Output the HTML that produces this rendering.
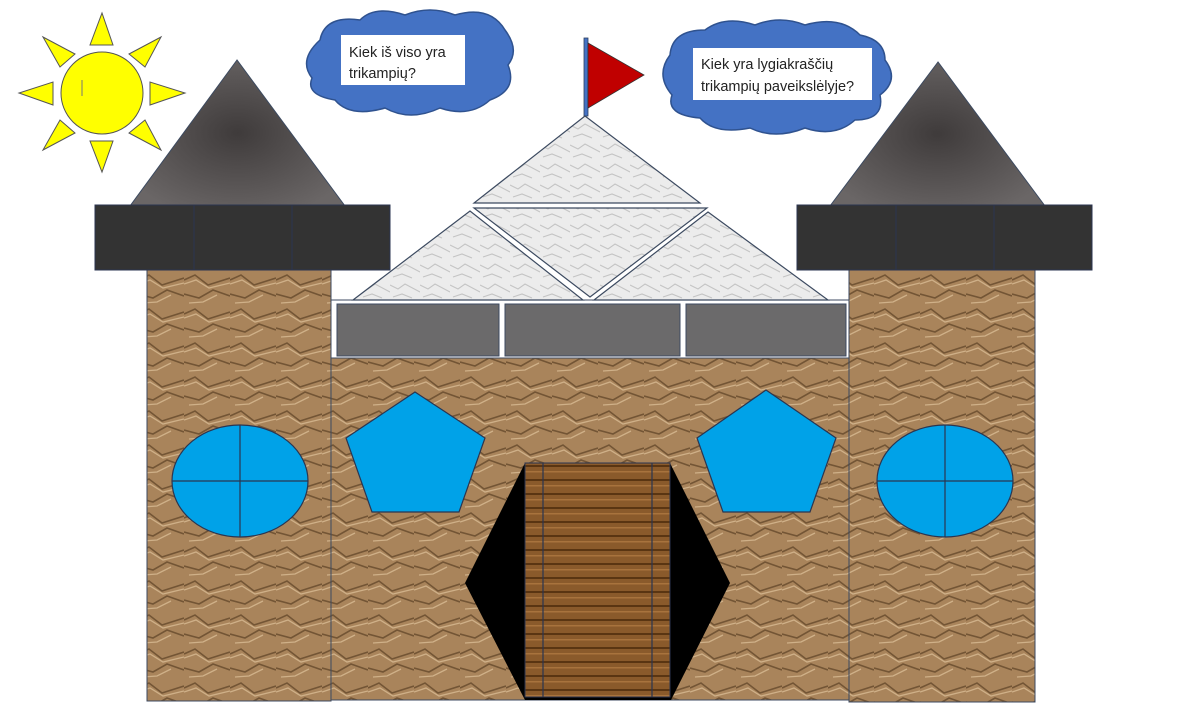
<!DOCTYPE html><html><head><meta charset="utf-8"><style>body{margin:0;background:#fff}svg{display:block}</style></head><body>
<svg width="1200" height="717" viewBox="0 0 1200 717" xmlns="http://www.w3.org/2000/svg">
<defs>
<pattern id="paper" width="46" height="34" patternUnits="userSpaceOnUse">
<rect width="46" height="34" fill="#a9845b"/>
<path d="M0 8 L11 3 L24 13 L46 6 M0 22 L15 26 L29 18 L46 24" stroke="#735535" stroke-width="1.6" fill="none"/>
<path d="M0 12 L12 8 L25 16 L46 11 M5 31 L19 30 L33 23" stroke="#cfb088" stroke-width="1.3" fill="none"/>
</pattern>
<pattern id="marble" width="30" height="20" patternUnits="userSpaceOnUse">
<rect width="30" height="20" fill="#ececec"/>
<path d="M0 5 L8 9 L15 4 L30 12 M3 17 L12 14 L22 18" stroke="#c4c4c4" stroke-width="1.1" fill="none"/>
</pattern>
<pattern id="wood" width="145" height="14" patternUnits="userSpaceOnUse">
<rect width="145" height="14" fill="#8a5a2b"/>
<rect y="3" width="145" height="2" fill="#5a3512"/><rect y="9" width="145" height="1.5" fill="#a8733d"/>
</pattern>
<radialGradient id="roof" cx="0.5" cy="0.5" r="0.6"><stop offset="0" stop-color="#3f3b3b"/><stop offset="1" stop-color="#6a6666"/></radialGradient>
</defs>
<g fill="#ffff00" stroke="#555" stroke-width="1">
<circle cx="102" cy="93" r="41"/>
<polygon points="90,45 113,45 102,13"/><polygon points="90,141 113,141 102,172"/>
<polygon points="53,82 53,105 19,93"/><polygon points="150,82 150,105 185,93"/>
<polygon points="43,37 75,54 60,67"/><polygon points="161,37 129,54 145,67"/>
<polygon points="43,150 75,133 60,120"/><polygon points="161,150 129,133 145,120"/>
</g>
<line x1="82" y1="80" x2="82" y2="96" stroke="#777" stroke-width="1"/>
<g fill="#4472c4" stroke="#2f528f" stroke-width="1.5">
<path d="M320 40 Q325 15 360 20 Q375 5 405 15 Q430 5 455 15 Q490 5 505 30 Q520 50 508 65 Q518 90 490 100 Q470 118 440 108 Q410 122 385 108 Q350 118 335 100 Q305 95 312 78 Q298 60 320 40Z"/>
<path d="M670 55 Q672 30 705 30 Q725 15 755 25 Q780 15 805 25 Q840 15 860 35 Q885 40 885 60 Q900 80 880 95 Q885 120 855 120 Q835 138 805 128 Q775 140 750 128 Q715 135 700 118 Q665 115 672 95 Q655 75 670 55Z"/>
</g>
<rect x="341" y="35" width="124" height="50" fill="#fff"/>
<rect x="693" y="48" width="179" height="52" fill="#fff"/>
<g font-family="Liberation Sans, sans-serif" font-size="14.5" fill="#222">
<text x="349" y="57">Kiek iš viso yra</text><text x="349" y="78">trikampių?</text>
<text x="701" y="69">Kiek yra lygiakraščių</text><text x="701" y="91">trikampių paveikslėlyje?</text>
</g>
<rect x="584" y="38" width="4" height="78" fill="#4472c4" stroke="#2f3f5f" stroke-width="0.8"/>
<polygon points="588,43 644,75 588,108" fill="#c00000" stroke="#333" stroke-width="0.8"/>
<polygon points="237,60 130,206 345,206" fill="url(#roof)" stroke="#3c4a60" stroke-width="1"/>
<polygon points="938,62 830,206 1045,206" fill="url(#roof)" stroke="#3c4a60" stroke-width="1"/>
<rect x="147" y="270" width="184" height="431" fill="url(#paper)" stroke="#3c4a60" stroke-width="1"/>
<rect x="849" y="270" width="186" height="432" fill="url(#paper)" stroke="#3c4a60" stroke-width="1"/>
<rect x="331" y="358" width="518" height="342" fill="url(#paper)" stroke="#3c4a60" stroke-width="1"/>
<g fill="#333" stroke="#2b3550" stroke-width="1">
<rect x="95" y="205" width="99" height="65"/><rect x="194" y="205" width="98" height="65"/><rect x="292" y="205" width="98" height="65"/>
<rect x="797" y="205" width="99" height="65"/><rect x="896" y="205" width="98" height="65"/><rect x="994" y="205" width="98" height="65"/>
</g>
<rect x="331" y="300" width="518" height="58" fill="#fff" stroke="#3c4a60" stroke-width="1"/>
<g fill="#6b6a6b" stroke="#3c4a60" stroke-width="1">
<rect x="337" y="304" width="162" height="52"/><rect x="505" y="304" width="175" height="52"/><rect x="686" y="304" width="160" height="52"/>
</g>
<g fill="url(#marble)" stroke="#3c4a60" stroke-width="1.2">
<polygon points="585,116 474,203 700,203"/>
<polygon points="353,300 470,211 583,300"/>
<polygon points="474,208 707,208 590,297"/>
<polygon points="594,300 708,212 828,300"/>
</g>
<g fill="#00a2e8" stroke="#2b3550" stroke-width="1.2">
<ellipse cx="240" cy="481" rx="68" ry="56"/><ellipse cx="945" cy="481" rx="68" ry="56"/>
<polygon points="415,392 485,438 459,512 372,512 346,438"/>
<polygon points="766,390 836,438 810,512 723,512 697,438"/>
</g>
<g stroke="#2b3550" stroke-width="1.2">
<line x1="240" y1="425" x2="240" y2="537"/><line x1="172" y1="481" x2="308" y2="481"/>
<line x1="945" y1="425" x2="945" y2="537"/><line x1="877" y1="481" x2="1013" y2="481"/>
</g>
<polygon points="525,463 670,463 730,583 671,700 525,700 465,583" fill="#000"/>
<rect x="525" y="463" width="145" height="234" fill="url(#wood)" stroke="#2b3550" stroke-width="1"/>
<line x1="543" y1="463" x2="543" y2="697" stroke="#2b3550" stroke-width="1.2"/>
<line x1="652" y1="463" x2="652" y2="697" stroke="#2b3550" stroke-width="1.2"/>
</svg>
</body></html>
